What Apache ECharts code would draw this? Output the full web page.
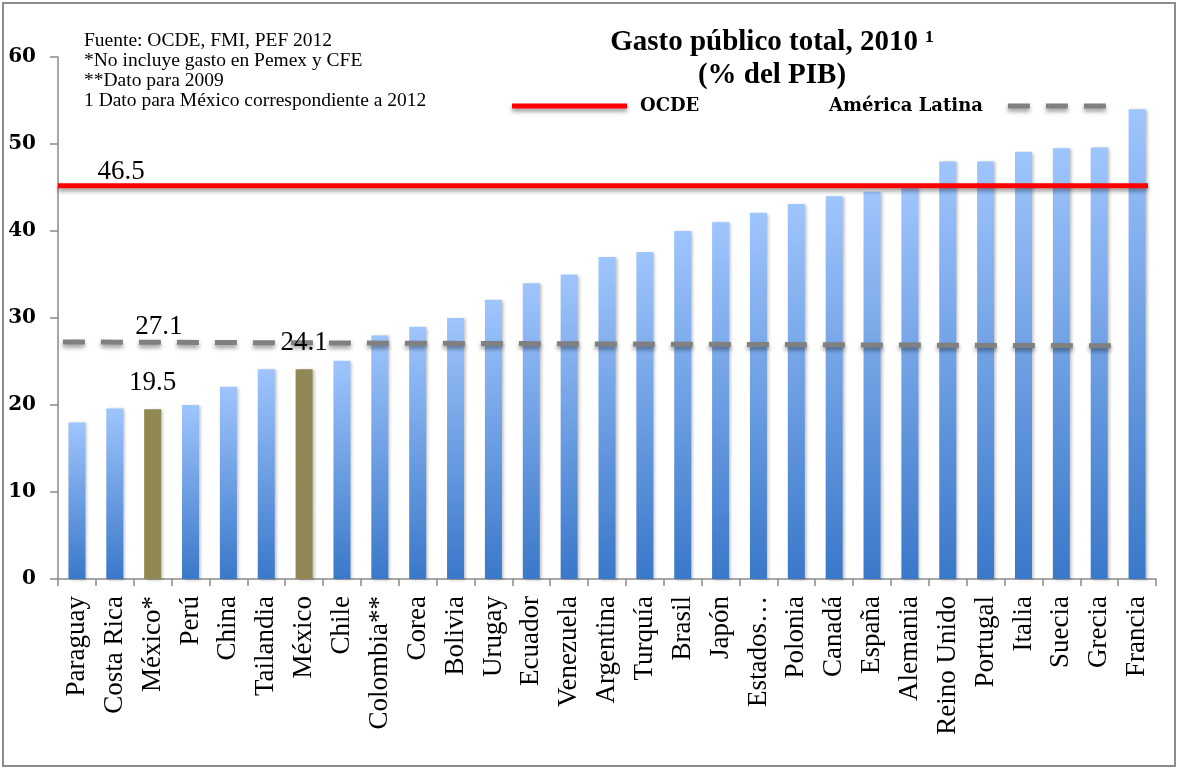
<!DOCTYPE html>
<html><head><meta charset="utf-8">
<script src="https://cdn.jsdelivr.net/npm/echarts@6/dist/echarts.min.js"></script>
<style>html,body{margin:0;padding:0;background:#fff}#c{width:1178px;height:769px}</style>
</head><body><div id="c"></div>
<script>
const categories = ['Paraguay','Costa Rica','México*','Perú','China','Tailandia','México','Chile','Colombia**','Corea','Bolivia','Urugay','Ecuador','Venezuela','Argentina','Turquía','Brasil','Japón','Estados…','Polonia','Canadá','España','Alemania','Reino Unido','Portugal','Italia','Suecia','Grecia','Francia'];
const values = [18.0,19.6,19.5,20.0,22.1,24.1,24.1,25.1,28.0,29.0,30.0,32.1,34.0,35.0,37.0,37.6,40.0,41.0,42.1,43.1,44.0,44.5,44.9,48.0,48.0,49.1,49.5,49.6,54.0];
const highlighted = ['México*','México'];
const ocdeX = [0, 28.79];
const ocdeY = [45.2, 45.2];
const ocdeLabel = '46.5';
const latamX = [0.13, 27.87];
const latamY = [27.25, 26.8];
const latamLabel = '27.1';
const notes = ['Fuente: OCDE, FMI, PEF 2012','*No incluye gasto en Pemex y CFE','**Dato para 2009','1 Dato para México correspondiente a 2012'];
const titleLines = ['Gasto público total, 2010 ¹','(% del PIB)'];

const chart = echarts.init(document.getElementById('c'));
const serif = '"Liberation Serif", "Times New Roman", serif';
const dserif = '"DejaVu Serif", serif';
const blueData = values.map((v,i) => highlighted.includes(categories[i]) ? '-' : v);
const oliveData = values.map((v,i) => highlighted.includes(categories[i]) ? v : '-');
const ocdeData = ocdeX.map((x,i) => i === 0 ? {value:[x, ocdeY[i]], label:{show:true, formatter: ocdeLabel, position:'top', distance:0, offset:[63,0], color:'#000', fontFamily:serif, fontSize:27}} : [x, ocdeY[i]]);
const latamData = latamX.map((x,i) => i === 0 ? {value:[x, latamY[i]], label:{show:true, formatter: latamLabel, position:'top', distance:2, offset:[96,0], color:'#000', fontFamily:serif, fontSize:27}} : [x, latamY[i]]);

const legendText = {fontFamily: dserif, fontWeight:'bold', fontSize:18, color:'#000'};
chart.setOption({
  animation:false,
  backgroundColor:'#fff',
  grid:{left:58, right:22, top:57, bottom:190},
  legend:[
    {data:['OCDE'], left:512, top:97, padding:0, icon:'rect', itemWidth:115, itemHeight:5,
     itemStyle:{borderWidth:0, shadowBlur:4, shadowColor:'rgba(0,0,0,0.4)', shadowOffsetY:3},
     textStyle:Object.assign({padding:[0,0,0,8]}, legendText)},
    {data:['América Latina'], left:829, top:97, padding:0, align:'right',
     icon:'path://M0,0h22v5h-22z M38,0h22v5h-22z M76,0h22v5h-22z', itemWidth:98, itemHeight:5,
     itemStyle:{borderWidth:0, shadowBlur:4, shadowColor:'rgba(0,0,0,0.4)', shadowOffsetY:3},
     textStyle:Object.assign({padding:[0,20,0,0]}, legendText)}
  ],
  xAxis:[
    {type:'category', data:categories, boundaryGap:true,
     axisLine:{lineStyle:{color:'#8a8a8a', width:1.5}},
     axisTick:{show:true, length:7, lineStyle:{color:'#8a8a8a', width:1.5}},
     axisLabel:{rotate:90, interval:0, margin:17, color:'#000', fontFamily:serif, fontSize:27}},
    {type:'value', min:0, max:categories.length, show:false}
  ],
  yAxis:{type:'value', min:0, max:60, interval:10,
    axisLine:{show:true, lineStyle:{color:'#8a8a8a', width:1.5}},
    axisTick:{show:true, length:8, lineStyle:{color:'#8a8a8a', width:1.5}},
    splitLine:{show:false},
    axisLabel:{margin:22, color:'#000', fontFamily:dserif, fontWeight:'bold', fontSize:20}},
  series:[
    {name:'Gasto', type:'bar', data:blueData, barWidth:17, z:2,
     itemStyle:{color:new echarts.graphic.LinearGradient(0,0,0,1,[{offset:0,color:'#9fc5fd'},{offset:1,color:'#3a78c9'}]),
       shadowBlur:3, shadowOffsetX:2, shadowOffsetY:1, shadowColor:'rgba(0,0,0,0.25)'}},
    {name:'México', type:'bar', data:oliveData, barWidth:17, barGap:'-100%', z:4,
     itemStyle:{color:'#8f8852', shadowBlur:3, shadowOffsetX:2, shadowOffsetY:1, shadowColor:'rgba(0,0,0,0.25)'},
     label:{show:true, position:'top', distance:13, color:'#000', fontFamily:serif, fontSize:27}},
    {name:'OCDE', type:'line', xAxisIndex:1, data:ocdeData, z:3, symbol:'circle', symbolSize:0, silent:true,
     itemStyle:{color:'#ff0000'},
     lineStyle:{color:'#ff0000', width:5, shadowBlur:4, shadowColor:'rgba(0,0,0,0.4)', shadowOffsetY:3}},
    {name:'América Latina', type:'line', xAxisIndex:1, data:latamData, z:3, symbol:'circle', symbolSize:0, silent:true,
     itemStyle:{color:'#808080'},
     lineStyle:{color:'#808080', width:5, type:[22,16], cap:'butt', shadowBlur:4, shadowColor:'rgba(0,0,0,0.4)', shadowOffsetY:3}}
  ],
  graphic:[
    {type:'rect', shape:{x:3, y:3, width:1172, height:763}, style:{fill:'none', stroke:'#8c8c8c', lineWidth:2}, silent:true, z:-10},
    {type:'text', x:772, y:43, style:{text:titleLines[0], font:'bold 29px ' + serif, textAlign:'center', textVerticalAlign:'middle', fill:'#000'}},
    {type:'text', x:772, y:76, style:{text:titleLines[1], font:'bold 29px ' + serif, textAlign:'center', textVerticalAlign:'middle', fill:'#000'}},
    {type:'text', x:84, y:31, style:{text:notes.join('\n'), font:'19.5px ' + serif, lineHeight:20, textAlign:'left', textVerticalAlign:'top', fill:'#000'}}
  ]
});
</script></body></html>
